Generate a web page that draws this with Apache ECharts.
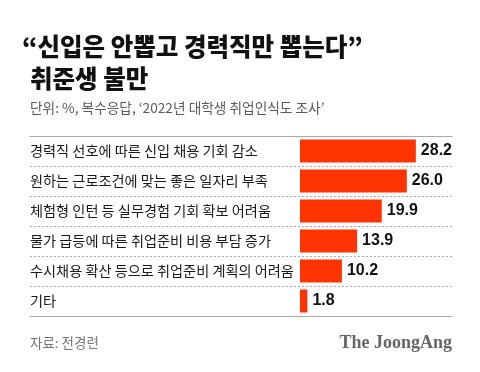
<!DOCTYPE html>
<html>
<head>
<meta charset="utf-8">
<script src="https://cdn.jsdelivr.net/npm/echarts@6/dist/echarts.min.js"></script>
<style>
html,body{margin:0;padding:0;background:#fff;}
#c{width:480px;height:372px;}
</style>
</head>
<body>
<div id="c"></div>
<script>
var categories = [
  '경력직 선호에 따른 신입 채용 기회 감소',
  '원하는 근로조건에 맞는 좋은 일자리 부족',
  '체험형 인턴 등 실무경험 기회 확보 어려움',
  '물가 급등에 따른 취업준비 비용 부담 증가',
  '수시채용 확산 등으로 취업준비 계획의 어려움',
  '기타'
];
var values = [28.2, 26.0, 19.9, 13.9, 10.2, 1.8];
var titleLine1 = '“신입은 안뽑고 경력직만 뽑는다”';
var titleLine2 = '취준생 불만';
var subtitle = '단위: %, 복수응답, ‘2022년 대학생 취업인식도 조사’';
var source = '자료: 전경련';
var brand = 'The JoongAng';

var KR = '"Noto Sans CJK KR", "Noto Sans", sans-serif';
var chart = echarts.init(document.getElementById('c'), null, {renderer: 'canvas'});
chart.setOption({
  backgroundColor: '#ffffff',
  animation: false,
  title: [
    {text: titleLine1, left: 22, top: 33, padding: 0, textStyle: {fontFamily: KR, fontSize: 24.5, fontWeight: 900, color: '#111', lineHeight: 28}},
    {text: titleLine2, left: 30, top: 65, padding: 0, textStyle: {fontFamily: KR, fontSize: 24.5, fontWeight: 900, color: '#111', lineHeight: 28}},
    {text: subtitle, left: 30, top: 100, padding: 0, textStyle: {fontFamily: KR, fontSize: 13.7, fontWeight: 'normal', color: '#5a5a5a', lineHeight: 16}},
    {text: source, left: 30, top: 335, padding: 0, textStyle: {fontFamily: KR, fontSize: 13.5, fontWeight: 'normal', color: '#777', lineHeight: 16}},
    {text: brand, right: 28, top: 333, padding: 0, textStyle: {fontFamily: '"Liberation Serif", "DejaVu Serif", serif', fontSize: 18, fontWeight: 'bold', color: '#666', lineHeight: 20}}
  ],
  grid: [
    {left: 30, right: 28, top: 136, height: 180},
    {left: 300, right: 28, top: 136, height: 180}
  ],
  xAxis: [
    {gridIndex: 0, type: 'value', min: 0, max: 1, position: 'bottom', axisLine: {show: true, lineStyle: {color: '#aaa', width: 1.2}}, axisTick: {show: false}, axisLabel: {show: false}, splitLine: {show: false}},
    {gridIndex: 0, type: 'value', min: 0, max: 1, position: 'top', axisLine: {show: true, lineStyle: {color: '#aaa', width: 1.2}}, axisTick: {show: false}, axisLabel: {show: false}, splitLine: {show: false}},
    {gridIndex: 1, type: 'value', min: 0, max: 37, show: false, splitLine: {show: false}}
  ],
  yAxis: [
    {gridIndex: 0, type: 'category', data: categories, inverse: true,
     axisLine: {show: false}, axisTick: {show: false},
     splitLine: {show: true, lineStyle: {color: '#a8abbd', type: [2, 2], width: 1}},
     axisLabel: {inside: true, margin: 0, align: 'left', fontFamily: KR, fontSize: 14.2, color: '#1a1a1a'}},
    {gridIndex: 1, type: 'category', data: categories, inverse: true, show: false}
  ],
  series: [
    {type: 'bar', xAxisIndex: 2, yAxisIndex: 1, data: values, barWidth: 23,
     itemStyle: {color: '#ff3300'},
     label: {show: true, position: 'right', distance: 5, formatter: function(p){return p.value.toFixed(1);},
             fontFamily: '"Liberation Sans", Arial, sans-serif', fontSize: 16, fontWeight: 'bold', color: '#111'}}
  ]
});
</script>
</body>
</html>
